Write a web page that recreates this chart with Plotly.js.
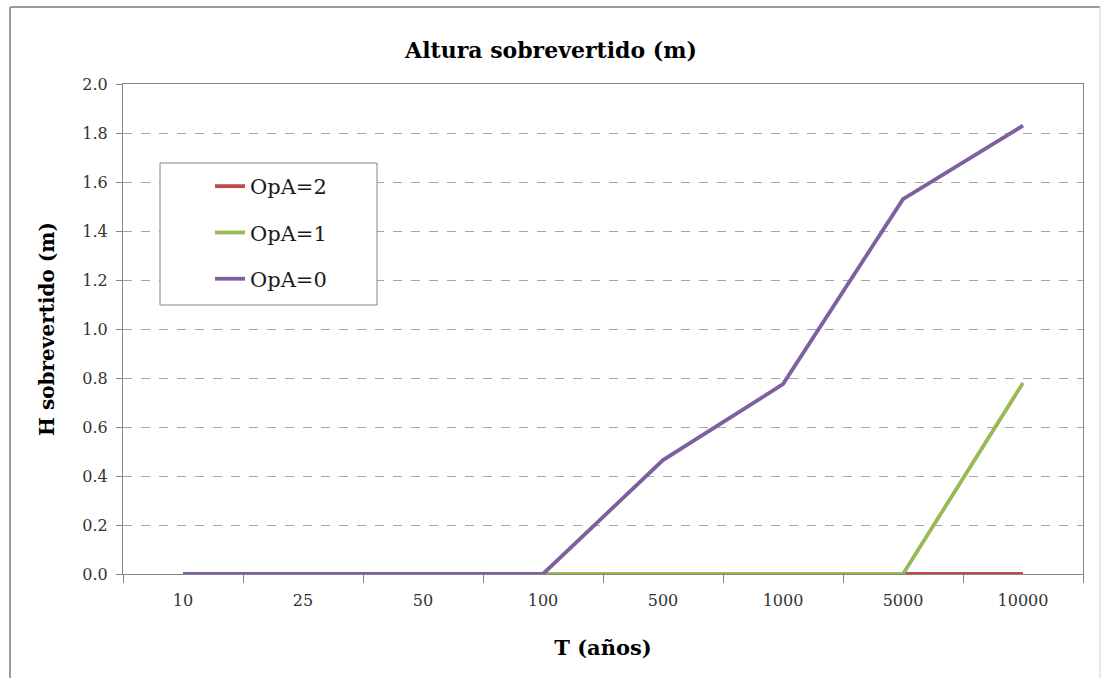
<!DOCTYPE html>
<html>
<head>
<meta charset="utf-8">
<script src="https://cdn.plot.ly/plotly-3.0.1.min.js"></script>
<style>html,body{margin:0;padding:0;background:#fff;}#chart{width:1102px;height:678px;}</style>
</head>
<body>
<div id="chart"></div>
<script>
var categories = ["10", "25", "50", "100", "500", "1000", "5000", "10000"];
var opA2 = [0, 0, 0, 0, 0, 0, 0, 0];
var opA1 = [0, 0, 0, 0, 0, 0, 0, 0.78];
var opA0 = [0, 0, 0, 0, 0.465, 0.775, 1.53, 1.83];
var seriesNames = ["OpA=2", "OpA=1", "OpA=0"];
var seriesColors = ["#BE4B48", "#98B954", "#7D60A0"];
var yTicks = [0, 0.2, 0.4, 0.6, 0.8, 1.0, 1.2, 1.4, 1.6, 1.8, 2.0];

var serif = "DejaVu Serif, Liberation Serif, serif";
var data = [opA2, opA1, opA0].map(function (vals, i) {
  return {
    x: categories,
    y: vals,
    type: "scatter",
    mode: "lines",
    name: seriesNames[i],
    legendgroup: "g" + i,
    line: {color: seriesColors[i], width: 3.8}
  };
});

function px(x) { return (x - 123) / 960; }
function py(y) { return (574 - y) / 490; }

var layout = {
  width: 1102,
  height: 678,
  paper_bgcolor: "#ffffff",
  plot_bgcolor: "#ffffff",
  margin: {l: 123, r: 19, t: 84, b: 104},
  title: {
    text: "<b>Altura sobrevertido (m)</b>",
    font: {family: serif, size: 22, color: "#000"},
    x: 0.5, xref: "container", xanchor: "center",
    y: 1 - 50 / 678, yref: "container", yanchor: "middle"
  },
  xaxis: {
    type: "category",
    tickvals: categories,
    range: [-0.5, 7.5],
    ticks: "outside",
    tickson: "boundaries",
    ticklen: 8,
    tickcolor: "#868686",
    showline: true,
    linecolor: "#868686",
    linewidth: 1,
    mirror: true,
    showgrid: false,
    zeroline: false,
    ticklabelstandoff: 12,
    tickfont: {family: serif, size: 16, color: "#333"},
    title: {text: "<b>T (años)</b>", font: {family: serif, size: 21, color: "#000"}, standoff: 31}
  },
  yaxis: {
    range: [0, 2],
    tickvals: yTicks,
    tickformat: ".1f",
    ticks: "outside",
    ticklen: 6,
    tickcolor: "#868686",
    showline: true,
    linecolor: "#868686",
    linewidth: 1,
    mirror: true,
    showgrid: true,
    gridcolor: "#A6A6A6",
    griddash: "dash",
    gridwidth: 1,
    zeroline: false,
    ticklabelstandoff: 5,
    tickfont: {family: serif, size: 16, color: "#333"},
    title: {text: "<b>H sobrevertido (m)</b>", font: {family: serif, size: 20, color: "#000"}, standoff: 22}
  },
  showlegend: true,
  legend: {
    x: px(210),
    y: py(166),
    xanchor: "left",
    yanchor: "top",
    bgcolor: "rgba(0,0,0,0)",
    borderwidth: 0,
    traceorder: "grouped",
    tracegroupgap: 16,
    font: {family: serif, size: 21, color: "#1a1a1a"}
  },
  shapes: [
    {type: "rect", xref: "paper", yref: "paper", layer: "above", x0: px(160), x1: px(377), y0: py(163), y1: py(305), fillcolor: "#ffffff", line: {color: "#868686", width: 1}},
    {type: "line", xref: "paper", yref: "paper", x0: px(10), x1: px(1100), y0: py(7), y1: py(7), line: {color: "#9a9a9a", width: 2}},
    {type: "line", xref: "paper", yref: "paper", x0: px(10), x1: px(10), y0: py(7), y1: py(700), line: {color: "#9a9a9a", width: 2}},
    {type: "line", xref: "paper", yref: "paper", x0: px(1100), x1: px(1100), y0: py(7), y1: py(700), line: {color: "#d0d0d0", width: 1}}
  ]
};

Plotly.newPlot("chart", data, layout, {displayModeBar: false, staticPlot: true});
</script>
</body>
</html>
